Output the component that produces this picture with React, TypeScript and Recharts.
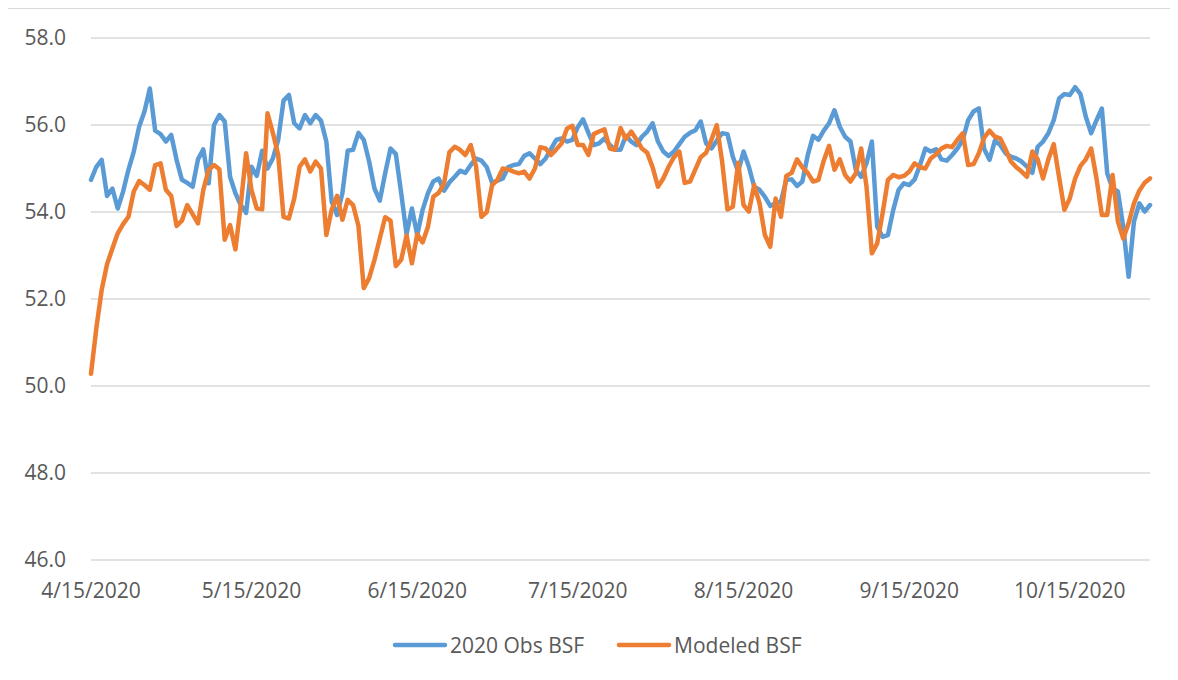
import React from 'react';
import { LineChart, Line, XAxis, YAxis, CartesianGrid, Legend } from 'recharts';

const OBS_BSF: number[] = [
  54.74, 55.04, 55.2, 54.37, 54.54, 54.08, 54.47, 54.97, 55.39, 55.96,
  56.31, 56.84, 55.87, 55.79, 55.62, 55.77, 55.2, 54.74, 54.67, 54.58,
  55.21, 55.44, 54.66, 56.0, 56.23, 56.08, 54.81, 54.43, 54.16, 53.98,
  55.04, 54.83, 55.41, 55.0, 55.23, 55.66, 56.56, 56.69, 56.04, 55.92,
  56.23, 56.04, 56.23, 56.1, 55.62, 54.24, 53.93, 54.43, 55.41, 55.43,
  55.82, 55.66, 55.16, 54.54, 54.26, 54.89, 55.46, 55.33, 54.43, 53.49,
  54.08, 53.47, 54.05, 54.43, 54.7, 54.77, 54.49, 54.68, 54.81, 54.95,
  54.9, 55.08, 55.23, 55.18, 55.03, 54.67, 54.72, 54.77, 55.03, 55.08,
  55.1, 55.29, 55.35, 55.23, 55.1, 55.23, 55.45, 55.66, 55.69, 55.62,
  55.66, 55.95, 56.13, 55.82, 55.54, 55.58, 55.69, 55.54, 55.43, 55.43,
  55.75, 55.62, 55.54, 55.73, 55.85, 56.04, 55.62, 55.39, 55.29, 55.39,
  55.56, 55.73, 55.82, 55.88, 56.08, 55.58, 55.46, 55.64, 55.81, 55.79,
  55.27, 54.93, 55.39, 55.04, 54.58, 54.51, 54.35, 54.14, 54.2, 54.24,
  54.74, 54.75, 54.6, 54.7, 55.3, 55.75, 55.66, 55.87, 56.04, 56.34,
  55.96, 55.73, 55.62, 54.97, 54.81, 55.12, 55.62, 53.66, 53.43, 53.47,
  54.05, 54.51, 54.66, 54.62, 54.75, 55.08, 55.46, 55.39, 55.44, 55.21,
  55.18, 55.31, 55.46, 55.66, 56.11, 56.31, 56.38, 55.45, 55.2, 55.64,
  55.54, 55.35, 55.27, 55.23, 55.16, 55.04, 54.9, 55.5, 55.62, 55.81,
  56.11, 56.61, 56.71, 56.69, 56.87, 56.71, 56.19, 55.81, 56.11, 56.38,
  54.89, 54.54, 54.47, 53.66, 52.51, 53.78, 54.2, 54.01, 54.16,
];

const MODELED_BSF: number[] = [
  50.28, 51.33, 52.21, 52.8, 53.16, 53.51, 53.72, 53.89, 54.47, 54.71,
  54.62, 54.51, 55.08, 55.12, 54.51, 54.37, 53.68, 53.8, 54.16, 53.95,
  53.74, 54.51, 54.97, 55.08, 54.98, 53.36, 53.7, 53.14, 54.16, 55.35,
  54.51, 54.08, 54.06, 56.27, 55.82, 55.31, 53.89, 53.85, 54.31, 55.04,
  55.21, 54.93, 55.16, 55.0, 53.47, 54.05, 54.37, 53.82, 54.28, 54.16,
  53.68, 52.25, 52.48, 52.9, 53.39, 53.88, 53.8, 52.76, 52.9, 53.46,
  52.82, 53.49, 53.3, 53.66, 54.35, 54.44, 54.65, 55.37, 55.5, 55.43,
  55.31, 55.54, 55.04, 53.89, 54.0, 54.62, 54.74, 55.0, 54.98, 54.93,
  54.89, 54.93, 54.77, 55.0, 55.49, 55.46, 55.31, 55.44, 55.58, 55.92,
  55.98, 55.54, 55.54, 55.31, 55.79, 55.85, 55.9, 55.46, 55.43, 55.93,
  55.68, 55.85, 55.66, 55.46, 55.36, 55.03, 54.58, 54.77, 55.04, 55.26,
  55.39, 54.67, 54.7, 54.98, 55.26, 55.36, 55.66, 56.0, 55.16, 54.06,
  54.12, 55.13, 54.16, 54.01, 54.62, 54.2, 53.47, 53.2, 54.31, 53.89,
  54.83, 54.9, 55.21, 55.03, 54.9, 54.7, 54.74, 55.18, 55.52, 54.97,
  55.21, 54.85, 54.7, 54.89, 55.46, 54.58, 53.05, 53.28, 53.97, 54.74,
  54.85, 54.8, 54.83, 54.93, 55.12, 55.03, 55.0, 55.23, 55.33, 55.46,
  55.52, 55.49, 55.66, 55.81, 55.08, 55.1, 55.35, 55.71, 55.87, 55.73,
  55.69, 55.44, 55.16, 55.03, 54.93, 54.81, 55.39, 55.21, 54.77, 55.21,
  55.56, 54.8, 54.05, 54.31, 54.77, 55.06, 55.21, 55.46, 54.77, 53.93,
  53.93, 54.85, 53.78, 53.39, 53.74, 54.2, 54.49, 54.67, 54.77,
];

// day offsets (from 4/15/2020) of the category axis tick labels
const TICK_DAYS: number[] = [0, 30, 61, 91, 122, 153, 183];
const TICK_LABELS: string[] = [
  '4/15/2020', '5/15/2020', '6/15/2020', '7/15/2020', '8/15/2020', '9/15/2020', '10/15/2020',
];
const Y_TICKS: number[] = [46, 48, 50, 52, 54, 56, 58];

const SERIES_NAMES = ['2020 Obs BSF', 'Modeled BSF'];
const COLORS = ['#5B9BD5', '#ED7D31'];

const data = OBS_BSF.map((v, i) => ({ day: i, obs: v, modeled: MODELED_BSF[i] }));

const FONT = "'Open Sans', 'Liberation Sans', sans-serif";
const TEXT_COLOR = '#595959';

const LegendContent = () => (
  <div style={{ display: 'flex', alignItems: 'center', fontFamily: FONT, fontSize: 21, color: TEXT_COLOR, whiteSpace: 'nowrap' }}>
    {SERIES_NAMES.map((name, i) => (
      <div key={name} style={{ display: 'flex', alignItems: 'center', marginRight: i === 0 ? 32 : 0 }}>
        <svg width={56} height={10} style={{ display: 'block' }}>
          <line x1={3} y1={5} x2={53} y2={5} stroke={COLORS[i]} strokeWidth={4.5} strokeLinecap="round" />
        </svg>
        <span style={{ marginLeft: 2 }}>{name}</span>
      </div>
    ))}
  </div>
);

export default function App() {
  return (
    <div
      style={{
        width: 1163,
        height: 663,
        borderTop: '1px solid #d9d9d9',
        borderLeft: '1px solid #d9d9d9',
        marginLeft: -1,
        background: '#fff',
        position: 'relative',
      }}
    >
      <LineChart width={1162} height={662} data={data} margin={{ top: 29, right: 20, bottom: 51, left: 0 }}>
        <CartesianGrid vertical={false} stroke="#d9d9d9" strokeWidth={1.3} />
        <XAxis
          dataKey="day"
          type="number"
          domain={[0, OBS_BSF.length - 1]}
          ticks={TICK_DAYS}
          tickFormatter={(v: number) => TICK_LABELS[TICK_DAYS.indexOf(v)] ?? ''}
          axisLine={false}
          tickLine={false}
          tickSize={0}
          tickMargin={23}
          height={60}
          interval={0}
          tick={{ fill: TEXT_COLOR, fontSize: 21, fontFamily: FONT }}
        />
        <YAxis
          type="number"
          domain={[46, 58]}
          ticks={Y_TICKS}
          tickFormatter={(v: number) => v.toFixed(1)}
          axisLine={false}
          tickLine={false}
          tickSize={0}
          tickMargin={25}
          width={83}
          interval={0}
          tick={{ fill: TEXT_COLOR, fontSize: 21, fontFamily: FONT }}
        />
        <Legend
          layout="horizontal"
          verticalAlign="middle"
          align="center"
          wrapperStyle={{ top: 622, left: 384, width: 'auto' }}
          content={<LegendContent />}
        />
        <Line
          type="linear"
          dataKey="obs"
          name={SERIES_NAMES[0]}
          stroke={COLORS[0]}
          strokeWidth={4.5}
          strokeLinejoin="round"
          strokeLinecap="round"
          dot={false}
          activeDot={false}
          isAnimationActive={false}
        />
        <Line
          type="linear"
          dataKey="modeled"
          name={SERIES_NAMES[1]}
          stroke={COLORS[1]}
          strokeWidth={4.5}
          strokeLinejoin="round"
          strokeLinecap="round"
          dot={false}
          activeDot={false}
          isAnimationActive={false}
        />
      </LineChart>
    </div>
  );
}
